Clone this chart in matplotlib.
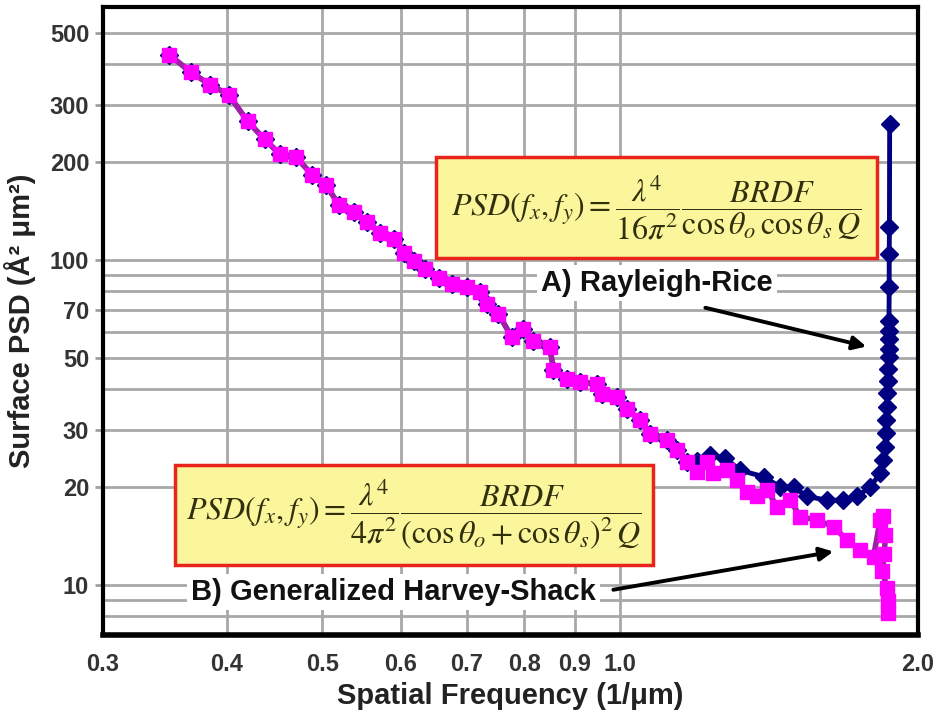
import matplotlib
matplotlib.use("Agg")
import matplotlib.pyplot as plt
from matplotlib.patches import Rectangle
from matplotlib.ticker import FixedLocator, NullFormatter

plt.rcParams['font.family'] = ['Liberation Sans', 'DejaVu Sans']
plt.rcParams['mathtext.fontset'] = 'stix'

# spatial frequency (1/um) and PSD values
freq_common = [0.350, 0.368, 0.385, 0.402, 0.420, 0.437, 0.453, 0.470, 0.488, 0.504,
               0.520, 0.538, 0.555, 0.572, 0.590, 0.604, 0.618, 0.635, 0.655, 0.676,
               0.700, 0.722, 0.733, 0.753, 0.777, 0.798, 0.817, 0.849, 0.856, 0.883,
               0.911, 0.947, 0.958, 0.992, 1.015, 1.047, 1.072, 1.114, 1.141, 1.168]
psd_common = [428, 378, 346, 322, 267, 235, 211, 207, 183, 170,
              147, 140, 131, 121, 116, 105, 99.3, 93.6, 88.2, 84.2,
              82.2, 79.4, 73.1, 68.1, 57.8, 61.3, 56.4, 53.8, 45.7, 43.1,
              42.0, 41.6, 38.7, 37.8, 34.7, 32.1, 29.2, 27.9, 25.9, 23.9]

# B) Generalized Harvey-Shack tail
freq_ghs = [1.195, 1.223, 1.242, 1.282, 1.312, 1.343, 1.374, 1.407, 1.440, 1.485,
            1.520, 1.580, 1.643, 1.695, 1.748, 1.803, 1.831, 1.844, 1.853, 1.849,
            1.840, 1.861, 1.866, 1.866]
psd_ghs = [22.3, 23.9, 22.0, 22.5, 21.0, 19.3, 18.7, 19.6, 17.4, 18.2,
           16.2, 15.8, 15.1, 13.7, 12.8, 12.2, 15.8, 16.3, 14.2, 12.4,
           11.0, 9.8, 8.9, 8.2]

# A) Rayleigh-Rice tail
freq_rr = [1.195, 1.233, 1.277, 1.322, 1.396, 1.451, 1.497, 1.544, 1.618, 1.681,
           1.735, 1.789, 1.831, 1.845, 1.853, 1.856, 1.858, 1.860, 1.862, 1.864,
           1.866, 1.867, 1.868, 1.868, 1.868, 1.869, 1.870, 1.870, 1.871, 1.872]
psd_rr = [24.0, 25.1, 24.5, 22.5, 21.5, 20.0, 20.0, 18.7, 18.2, 18.2,
          18.7, 20.0, 22.0, 24.2, 26.6, 29.3, 32.1, 35.2, 38.8, 42.5,
          46.0, 50.2, 53.0, 57.2, 60.6, 65.0, 82.2, 104, 126, 261]

xtick_vals = [0.3, 0.4, 0.5, 0.6, 0.7, 0.8, 0.9, 1.0, 2.0]
xtick_text = ["0.3", "0.4", "0.5", "0.6", "0.7", "0.8", "0.9", "1.0", "2.0"]
ytick_vals = [10, 20, 30, 50, 70, 100, 200, 300, 500]
ygrid_minor = [8, 9, 40, 60, 80, 90, 400]

fig = plt.figure(figsize=(9.35, 7.12), dpi=100)
ax = fig.add_axes([0.1102, 0.1081, 0.8717, 0.882])

ax.set_xscale('log')
ax.set_yscale('log')
ax.set_xlim(0.3, 2.0)
ax.set_ylim(7, 600)

# series
ax.plot(freq_common + freq_rr, psd_common + psd_rr, color='#000080', lw=3.5,
        marker='D', markersize=9, zorder=3)
ax.plot(freq_common + freq_ghs, psd_common + psd_ghs, color='#a020a8', lw=4,
        marker='s', markersize=10.5, markerfacecolor='#ff00ff',
        markeredgecolor='#ff00ff', zorder=4)

# ticks and grid
ax.xaxis.set_major_locator(FixedLocator(xtick_vals))
ax.set_xticklabels(xtick_text)
ax.xaxis.set_minor_formatter(NullFormatter())
ax.xaxis.set_minor_locator(FixedLocator([]))
ax.yaxis.set_major_locator(FixedLocator(ytick_vals))
ax.set_yticklabels([str(v) for v in ytick_vals])
ax.yaxis.set_minor_locator(FixedLocator(ygrid_minor))
ax.yaxis.set_minor_formatter(NullFormatter())

ax.tick_params(axis='x', which='both', length=0, pad=13, labelsize=17, labelcolor='#333333')
ax.tick_params(axis='y', which='major', length=6, width=2, color='#a0a0a0',
               pad=4, labelsize=17, labelcolor='#333333')
ax.tick_params(axis='y', which='minor', length=0)
for lab in ax.get_xticklabels() + ax.get_yticklabels():
    lab.set_fontweight('bold')

ax.grid(True, which='major', color='#a8a8a8', lw=2)
ax.grid(True, which='minor', axis='y', color='#a8a8a8', lw=2)
ax.set_axisbelow(True)

for side in ['top', 'right', 'left']:
    ax.spines[side].set_linewidth(3)
ax.spines['bottom'].set_linewidth(4)

ax.set_xlabel("Spatial Frequency (1/\u03bcm)", fontsize=21, fontweight='bold',
              color='#222222', labelpad=4)
ax.set_ylabel("Surface PSD (\u00c5\u00b2 \u03bcm\u00b2)", fontsize=21, fontweight='bold',
              color='#222222', labelpad=10)

# formula boxes
box_face = '#fbf59c'
ax.add_patch(Rectangle((0.4086, 0.6003), 0.5411, 0.1608, transform=ax.transAxes,
                       facecolor=box_face, edgecolor='#e8241c', lw=2.5, zorder=5))
ax.text(0.679, 0.682,
        r'$PSD(f_x,f_y) = \dfrac{\lambda^4}{16\pi^2}\dfrac{BRDF}{\cos\theta_o\,\cos\theta_s\,Q}$',
        transform=ax.transAxes, ha='center', va='center', fontsize=23,
        color='#30300c', zorder=6)

ax.add_patch(Rectangle((0.0883, 0.1115), 0.5865, 0.1592, transform=ax.transAxes,
                       facecolor=box_face, edgecolor='#e8241c', lw=2.5, zorder=5))
ax.text(0.381, 0.192,
        r'$PSD(f_x,f_y) = \dfrac{\lambda^4}{4\pi^2}\dfrac{BRDF}{(\cos\theta_o+\cos\theta_s)^2\,Q}$',
        transform=ax.transAxes, ha='center', va='center', fontsize=23,
        color='#30300c', zorder=6)

# labels with arrows
ax.text(0.68, 0.5605, "A) Rayleigh-Rice", transform=ax.transAxes, ha='center',
        va='center', fontsize=21, fontweight='bold', color='#111111', zorder=6,
        bbox=dict(facecolor='white', edgecolor='none', pad=3))
ax.annotate("", xy=(1.773, 54.1), xytext=(1.219, 71.2),
            arrowprops=dict(arrowstyle='-|>', color='black', lw=2.8,
                            mutation_scale=20, shrinkA=0, shrinkB=0), zorder=6)

ax.text(0.356, 0.0685, "B) Generalized Harvey-Shack", transform=ax.transAxes,
        ha='center', va='center', fontsize=21, fontweight='bold', color='#111111',
        zorder=6, bbox=dict(facecolor='white', edgecolor='none', pad=3))
ax.annotate("", xy=(1.642, 12.65), xytext=(0.984, 9.65),
            arrowprops=dict(arrowstyle='-|>', color='black', lw=2.8,
                            mutation_scale=20, shrinkA=0, shrinkB=0), zorder=6)

fig.savefig("out.png", dpi=100)
